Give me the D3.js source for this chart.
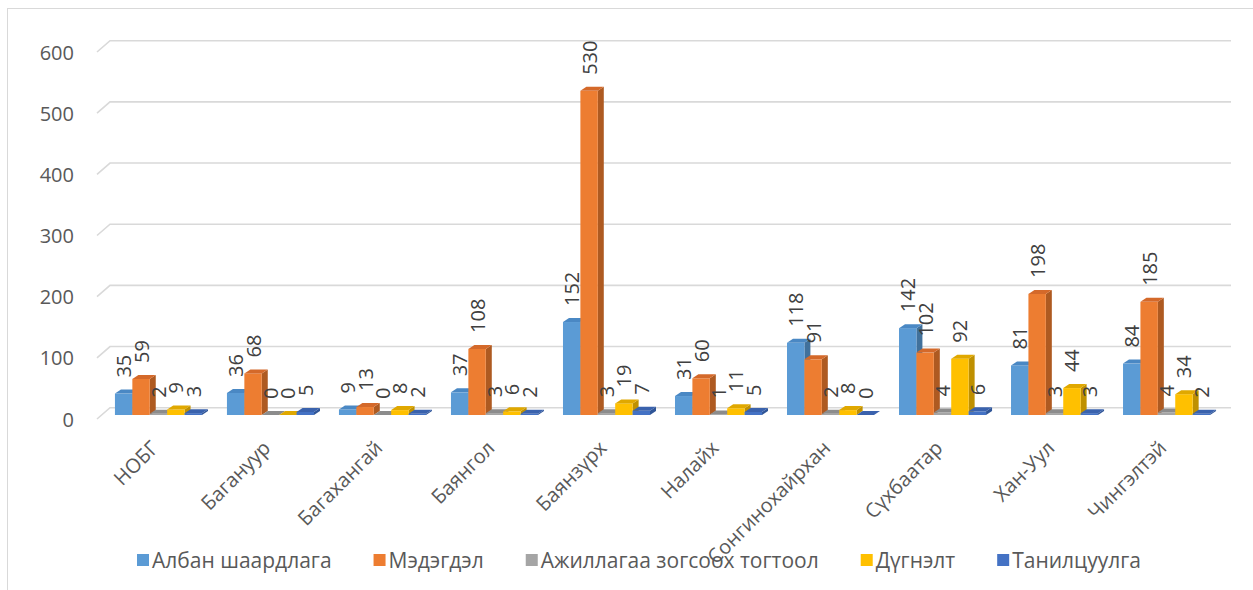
<!DOCTYPE html>
<html>
<head>
<meta charset="utf-8">
<script src="https://cdn.jsdelivr.net/npm/d3@7/dist/d3.min.js"></script>
<style>
  body { margin: 0; background: #fff; }
  svg { display: block; font-family: "Open Sans", sans-serif; }
</style>
</head>
<body>
<svg id="chart" width="1253" height="590"></svg>
<script>
// district names (x axis)
var categories = ["НОБГ", "Багануур", "Багахангай", "Баянгол", "Баянзүрх", "Налайх", "Сонгинохайрхан", "Сүхбаатар", "Хан-Уул", "Чингэлтэй"];
var seriesNames = ["Албан шаардлага", "Мэдэгдэл", "Ажиллагаа зогсоох тогтоол", "Дүгнэлт", "Танилцуулга"];
var albanShaardlaga = [35, 36, 9, 37, 152, 31, 118, 142, 81, 84];
var medegdel = [59, 68, 13, 108, 530, 60, 91, 102, 198, 185];
var ajillagaaZogsooh = [2, 0, 0, 3, 3, 1, 2, 4, 3, 4];
var dugnelt = [9, 0, 8, 6, 19, 11, 8, 92, 44, 34];
var taniltsuulga = [3, 5, 2, 2, 7, 5, 0, 6, 3, 2];
var yTicks = [0, 100, 200, 300, 400, 500, 600];

var seriesValues = [albanShaardlaga, medegdel, ajillagaaZogsooh, dugnelt, taniltsuulga];
// front / top / side shades for each series
var colors = [
    { front: "#5b9bd5", top: "#4a88c4", side: "#41719c" },
    { front: "#ed7d31", top: "#d4692a", side: "#ae5a21" },
    { front: "#a5a5a5", top: "#8c8c8c", side: "#7c7c7c" },
    { front: "#ffc000", top: "#e0a800", side: "#bf9000" },
    { front: "#4472c4", top: "#3a62ad", side: "#2f5597" }
];

var svg = d3.select("#chart");

// chart area border
svg.append("rect")
    .attr("x", 7.5).attr("y", 8.5)
    .attr("width", 1300).attr("height", 700)
    .attr("fill", "none").attr("stroke", "#d9d9d9");

// back wall scale; floor front is shifted down-left
var y = d3.scaleLinear().domain([0, 600]).range([407.7, 40.7]);
var wallLeft = 110, wallRight = 1231, floorDx = 13, floorDy = 11.3;
var barDy = 7.3;          // bar front base below back wall baseline
var depthX = 6, depthY = -4;

// gridlines on the side wall + back wall
svg.append("g").selectAll("path")
    .data(yTicks)
    .enter()
    .append("path")
    .attr("d", function(d) {
        var yb = y(d);
        return "M" + (wallLeft - floorDx) + "," + (yb + floorDy) + "L" + wallLeft + "," + yb + "L" + wallRight + "," + yb;
    })
    .attr("fill", "none")
    .attr("stroke", "#d9d9d9")
    .attr("stroke-width", 1.6);

svg.append("g").selectAll("text")
    .data(yTicks)
    .enter()
    .append("text")
    .attr("x", 74)
    .attr("y", function(d) { return y(d) + floorDy; })
    .attr("text-anchor", "end")
    .attr("dominant-baseline", "central")
    .attr("font-size", 20)
    .attr("fill", "#595959")
    .text(function(d) { return d; });

var x0 = d3.scaleBand().domain(categories).range([101.5, 1223.5]).paddingInner(0.223).paddingOuter(0.12);
var x1 = d3.scaleBand().domain(d3.range(seriesNames.length)).range([0, x0.bandwidth()]);

var rows = [];
categories.forEach(function(c, i) {
    seriesValues.forEach(function(vals, s) {
        rows.push({ cat: c, s: s, v: vals[i] });
    });
});

var bars = svg.append("g").selectAll("g")
    .data(rows)
    .enter()
    .append("g");

bars.each(function(d) {
    var g = d3.select(this);
    var bx = x0(d.cat) + x1(d.s), bw = x1.bandwidth();
    var base = y(0) + barDy, top = y(d.v) + barDy;
    var c = colors[d.s];
    // side face
    g.append("path")
        .attr("d", "M" + (bx + bw) + "," + top + "L" + (bx + bw + depthX) + "," + (top + depthY) +
            "L" + (bx + bw + depthX) + "," + (base + depthY) + "L" + (bx + bw) + "," + base + "Z")
        .attr("fill", c.side);
    // front face
    g.append("rect")
        .attr("x", bx).attr("y", top)
        .attr("width", bw).attr("height", base - top)
        .attr("fill", c.front);
    // top face
    g.append("path")
        .attr("d", "M" + bx + "," + top + "L" + (bx + depthX) + "," + (top + depthY) +
            "L" + (bx + bw + depthX) + "," + (top + depthY) + "L" + (bx + bw) + "," + top + "Z")
        .attr("fill", c.top);
});

// data labels
svg.append("g").selectAll("text")
    .data(rows)
    .enter()
    .append("text")
    .attr("transform", function(d) {
        var cx = x0(d.cat) + x1(d.s) + x1.bandwidth() / 2;
        return "translate(" + cx + "," + (y(d.v) + barDy - 16) + ") rotate(-90)";
    })
    .attr("dominant-baseline", "central")
    .attr("font-size", 20)
    .attr("fill", "#404040")
    .text(function(d) { return d.v; });

// category labels
svg.append("g").selectAll("text")
    .data(categories)
    .enter()
    .append("text")
    .attr("transform", function(d) {
        return "translate(" + (x0(d) + x0.bandwidth() / 2 - 4) + ",444) rotate(-45)";
    })
    .attr("text-anchor", "end")
    .attr("dominant-baseline", "central")
    .attr("font-size", 20)
    .attr("fill", "#595959")
    .text(function(d) { return d; });

// legend
var legend = svg.append("g");
var lx = 0;
seriesNames.forEach(function(name, i) {
    var item = legend.append("g").attr("transform", "translate(" + lx + ",0)");
    item.append("rect")
        .attr("x", 0).attr("y", -6)
        .attr("width", 12).attr("height", 12)
        .attr("fill", colors[i].front);
    var t = item.append("text")
        .attr("x", 15)
        .attr("dominant-baseline", "central")
        .attr("font-size", 21)
        .attr("fill", "#595959")
        .text(name);
    lx += 15 + t.node().getComputedTextLength() + 42;
});
legend.attr("transform", "translate(137,560)");
</script>
</body>
</html>
